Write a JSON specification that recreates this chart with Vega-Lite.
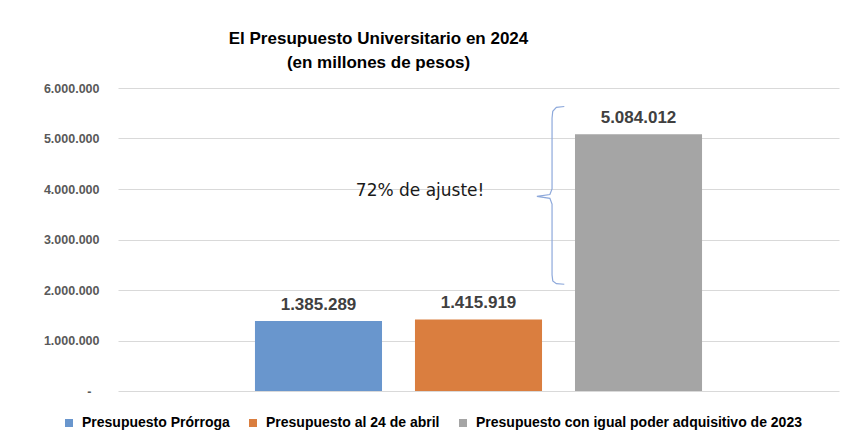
{
  "$schema": "https://vega.github.io/schema/vega-lite/v6.json",
  "width": 721,
  "height": 303,
  "autosize": "none",
  "padding": {"left": 118, "top": 88, "right": 6, "bottom": 50},
  "background": "#ffffff",
  "title": {
    "text": ["El Presupuesto Universitario en 2024", "(en millones de pesos)"],
    "anchor": "middle",
    "frame": "group",
    "dx": -100,
    "offset": 10,
    "font": "Liberation Sans, Arial, sans-serif",
    "fontSize": 17,
    "fontWeight": "bold",
    "color": "#000000",
    "lineHeight": 24
  },
  "datasets": {
    "bars": [
      {"serie": "Presupuesto Prórroga", "valor": 1385289, "etiqueta": "1.385.289"},
      {"serie": "Presupuesto al 24 de abril", "valor": 1415919, "etiqueta": "1.415.919"},
      {"serie": "Presupuesto con igual poder adquisitivo de 2023", "valor": 5084012, "etiqueta": "5.084.012"}
    ],
    "brace": [
      {"i": 1, "px": 61.9, "v": 5634000},
      {"i": 2, "px": 60.8, "v": 5615000},
      {"i": 3, "px": 60.3, "v": 5540000},
      {"i": 4, "px": 60.2, "v": 5400000},
      {"i": 5, "px": 60.2, "v": 4000000},
      {"i": 6, "px": 59.9, "v": 3890000},
      {"i": 7, "px": 58.1, "v": 3853000},
      {"i": 8, "px": 59.9, "v": 3816000},
      {"i": 9, "px": 60.2, "v": 3700000},
      {"i": 10, "px": 60.2, "v": 2300000},
      {"i": 11, "px": 60.3, "v": 2180000},
      {"i": 12, "px": 60.8, "v": 2125000},
      {"i": 13, "px": 61.9, "v": 2114000}
    ],
    "nota": [
      {"px": 41.9, "v": 3970000, "texto": "72% de ajuste!"}
    ]
  },
  "layer": [
    {
      "data": {"name": "bars"},
      "encoding": {
        "x": {
          "field": "serie",
          "type": "nominal",
          "axis": null,
          "scale": {
            "domain": ["Presupuesto Prórroga", "Presupuesto al 24 de abril", "Presupuesto con igual poder adquisitivo de 2023"],
            "paddingInner": 0.206,
            "paddingOuter": 0.856
          }
        },
        "y": {
          "field": "valor",
          "type": "quantitative",
          "scale": {"domain": [0, 6000000], "nice": false, "zero": true},
          "axis": {
            "title": null,
            "values": [0, 1000000, 2000000, 3000000, 4000000, 5000000, 6000000],
            "labelExpr": "datum.value == 0 ? '-' : replace(format(datum.value, ',d'), regexp(',', 'g'), '.')",
            "domain": false,
            "ticks": false,
            "grid": true,
            "gridColor": "#d9d9d9",
            "gridWidth": 1,
            "labelPadding": {"condition": {"test": "datum.value == 0", "value": 27}, "value": 19},
            "labelFont": "Liberation Sans, Arial, sans-serif",
            "labelFontSize": 12.5,
            "labelFontWeight": "bold",
            "labelColor": "#595959"
          }
        }
      },
      "layer": [
        {
          "mark": {"type": "bar"},
          "encoding": {
            "color": {
              "field": "serie",
              "type": "nominal",
              "scale": {
                "domain": ["Presupuesto Prórroga", "Presupuesto al 24 de abril", "Presupuesto con igual poder adquisitivo de 2023"],
                "range": ["#6996CD", "#DA7E3F", "#A5A5A5"]
              },
              "legend": {
                "orient": "none",
                "legendX": -56,
                "legendY": 328,
                "direction": "horizontal",
                "title": null,
                "symbolType": "square",
                "symbolSize": 64,
                "symbolStrokeWidth": 0,
                "labelFont": "Liberation Sans, Arial, sans-serif",
                "labelFontSize": 14,
                "labelFontWeight": "bold",
                "labelColor": "#000000",
                "labelOffset": 6,
                "columnPadding": 16,
                "labelLimit": 400
              }
            }
          }
        },
        {
          "mark": {
            "type": "text",
            "dy": -11,
            "baseline": "alphabetic",
            "font": "Liberation Sans, Arial, sans-serif",
            "fontSize": 17,
            "fontWeight": "bold",
            "color": "#404040"
          },
          "encoding": {
            "text": {"field": "etiqueta", "type": "nominal"}
          }
        }
      ]
    },
    {
      "layer": [
        {
          "data": {"name": "brace"},
          "mark": {"type": "line", "color": "#8EA9DB", "strokeWidth": 1.2},
          "encoding": {
            "x": {"field": "px", "type": "quantitative", "axis": null, "scale": {"domain": [0, 100], "nice": false, "zero": false}},
            "y": {"field": "v", "type": "quantitative"},
            "order": {"field": "i", "type": "quantitative"}
          }
        },
        {
          "data": {"name": "nota"},
          "mark": {
            "type": "text",
            "font": "DejaVu Sans, sans-serif",
            "fontSize": 17,
            "color": "#1a1a1a",
            "align": "center",
            "baseline": "middle"
          },
          "encoding": {
            "x": {"field": "px", "type": "quantitative", "axis": null, "scale": {"domain": [0, 100], "nice": false, "zero": false}},
            "y": {"field": "v", "type": "quantitative"},
            "text": {"field": "texto", "type": "nominal"}
          }
        }
      ]
    }
  ],
  "resolve": {"scale": {"x": "independent"}, "axis": {"x": "independent"}},
  "config": {
    "view": {"stroke": null}
  }
}
